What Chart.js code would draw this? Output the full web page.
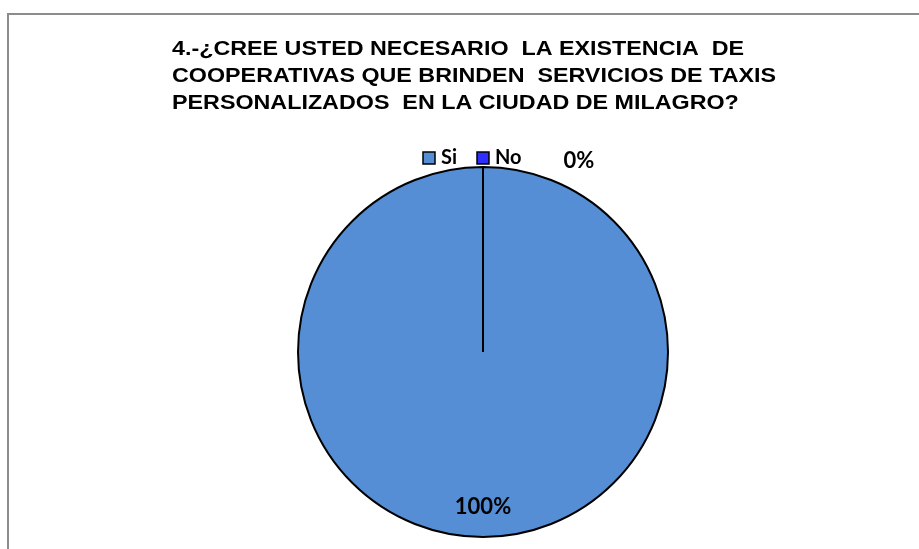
<!DOCTYPE html>
<html lang="es">
<head>
    <meta charset="UTF-8">
    <title>Cooperativas de taxis personalizados</title>
    <style>
        * { margin: 0; padding: 0; box-sizing: border-box; }
        body { background: #fff; width: 919px; height: 549px; overflow: hidden; }
        #wrap { position: relative; width: 919px; height: 549px; }
    </style>
</head>
<body>
<div id="wrap"><canvas id="pieChart" width="919" height="549"></canvas></div>

<script src="https://cdn.jsdelivr.net/npm/chart.js"></script>
<script>
    // datos del grafico
    const categorias = ['Si', 'No'];
    const valores = [100, 0];
    const etiquetas = ['100%', '0%'];
    const colores = ['#558ED5', '#2E2EFF'];
    const tituloLineas = [
        '4.-\u00BFCREE USTED NECESARIO  LA EXISTENCIA  DE',
        'COOPERATIVAS QUE BRINDEN  SERVICIOS DE TAXIS',
        'PERSONALIZADOS  EN LA CIUDAD DE MILAGRO?'
    ];

    // marco gris, titulo y leyenda
    const decoPlugin = {
        id: 'deco',
        beforeDraw(chart) {
            const ctx = chart.ctx;
            ctx.save();
            ctx.fillStyle = '#fff';
            ctx.fillRect(0, 0, chart.width, chart.height);
            ctx.strokeStyle = '#8c8c8c';
            ctx.lineWidth = 2;
            ctx.beginPath();
            ctx.moveTo(8, chart.height + 5);
            ctx.lineTo(8, 14);
            ctx.lineTo(chart.width + 5, 14);
            ctx.stroke();

            // titulo, ajustado al ancho de la segunda linea
            ctx.fillStyle = '#000';
            ctx.font = 'bold 21px "Liberation Sans", Arial, sans-serif';
            ctx.textBaseline = 'alphabetic';
            const ancho = ctx.measureText(tituloLineas[1]).width;
            const sx = 604 / ancho;
            tituloLineas.forEach((t, i) => {
                ctx.save();
                ctx.translate(172, 55 + i * 27);
                ctx.scale(sx, 1);
                ctx.fillText(t, 0, 0);
                ctx.restore();
            });

            // leyenda
            ctx.font = 'bold 20px Lato, "Open Sans", sans-serif';
            ctx.textBaseline = 'middle';
            const pos = [423, 477];
            categorias.forEach((c, i) => {
                ctx.fillStyle = colores[i];
                ctx.fillRect(pos[i], 152, 12, 12);
                ctx.strokeStyle = '#000';
                ctx.lineWidth = 1.5;
                ctx.strokeRect(pos[i], 152, 12, 12);
                ctx.fillStyle = '#000';
                ctx.fillText(c, pos[i] + 18, 158);
            });
            ctx.restore();
        },
        afterDatasetsDraw(chart) {
            const ctx = chart.ctx;
            const arcs = chart.getDatasetMeta(0).data;
            ctx.save();
            ctx.fillStyle = '#000';
            ctx.font = 'bold 22px Lato, "Open Sans", sans-serif';
            ctx.textAlign = 'center';
            ctx.textBaseline = 'middle';
            arcs.forEach((a, i) => {
                const p = a.getProps(['x', 'y', 'outerRadius', 'startAngle', 'endAngle']);
                if (valores[i] > 0) {
                    const mid = (p.startAngle + p.endAngle) / 2;
                    ctx.fillText(etiquetas[i], p.x + Math.cos(mid) * p.outerRadius * 0.84, p.y + Math.sin(mid) * p.outerRadius * 0.84);
                } else {
                    // etiqueta fuera del pastel, arriba a la derecha
                    ctx.fillText(etiquetas[i], p.x + 96, p.y - p.outerRadius - 6);
                }
            });
            ctx.restore();
        }
    };

    new Chart(document.getElementById('pieChart'), {
        type: 'pie',
        data: {
            labels: categorias,
            datasets: [{
                data: valores,
                backgroundColor: colores,
                borderColor: '#000',
                borderWidth: 2
            }]
        },
        options: {
            responsive: false,
            animation: false,
            layout: { padding: { left: 297, right: 250, top: 165, bottom: 10 } },
            plugins: {
                legend: { display: false },
                tooltip: { enabled: false }
            }
        },
        plugins: [decoPlugin]
    });
</script>
</body>
</html>
